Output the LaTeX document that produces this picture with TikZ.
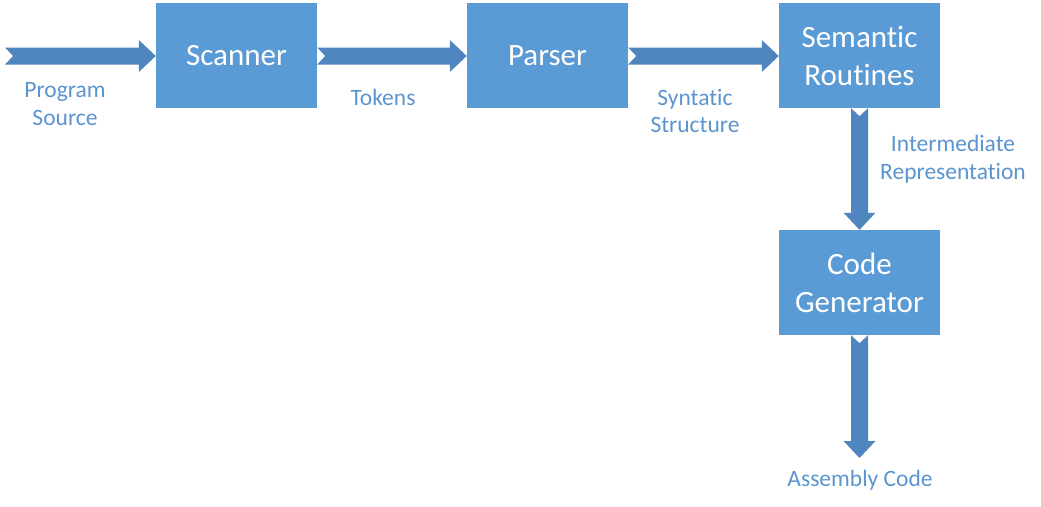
\documentclass[tikz,border=0pt]{standalone}
\usepackage{fontspec}
\setmainfont{Carlito}[Ligatures=NoCommon]
\usetikzlibrary{calc}
\definecolor{boxblue}{HTML}{5B9BD5}
\definecolor{arrblue}{HTML}{4F86BF}
\definecolor{labblue}{HTML}{5B94CF}
% notched block arrow from #1 to #2
\newcommand{\blockarrow}[2]{%
  \path ($(#2)!17pt!(#1)$) coordinate (neck);
  \fill[arr] ($(#1)!8.5pt!90:(#2)$) -- ($(neck)!8.5pt!90:(#2)$)
    -- ($(neck)!16pt!90:(#2)$) -- (#2) -- ($(neck)!16pt!-90:(#2)$)
    -- ($(neck)!8.5pt!-90:(#2)$) -- ($(#1)!8.5pt!-90:(#2)$)
    -- ($(#1)!8pt!(#2)$) -- cycle;}

\begin{document}
\begin{tikzpicture}[x=1pt,y=-1pt]
\tikzset{stage/.style={rectangle,fill=boxblue,draw=none,minimum width=161pt,minimum height=105pt,
           inner sep=0pt,text=white,align=center,font=\fontsize{31}{38}\selectfont},
         arr/.style={fill=arrblue},
         lab/.style={inner sep=0pt,text=labblue,align=center,font=\fontsize{23.5}{28}\selectfont}}
\useasboundingbox (0,0) rectangle (1041,506);
\node[stage] (scan) at (236.5,55.5) {Scanner};
\node[stage] (pars) at (547.5,55.5) {Parser};
\node[stage] (sem) at (859.5,55.5) {Semantic\\Routines};
\node[stage] (gen) at (859.5,282.5) {Code\\Generator};
\coordinate (src) at (5,56);
\coordinate (asm) at (859.5,458);
\blockarrow{src}{scan.west|-src}
\blockarrow{scan.east|-src}{pars.west|-src}
\blockarrow{pars.east|-src}{sem.west|-src}
\blockarrow{sem.south}{gen.north}
\blockarrow{gen.south}{asm}
\node[lab] (srcl) at (65,104) {Program\\Source};
\node[lab] (tok) at (383,97) {Tokens};
\node[lab] (syn) at (695,111) {Syntatic\\Structure};
\node[lab] (ir) at (953,159) {Intermediate\\Representation};
\node[lab] (asml) at (860,480) {Assembly Code};
\end{tikzpicture}
\end{document}
